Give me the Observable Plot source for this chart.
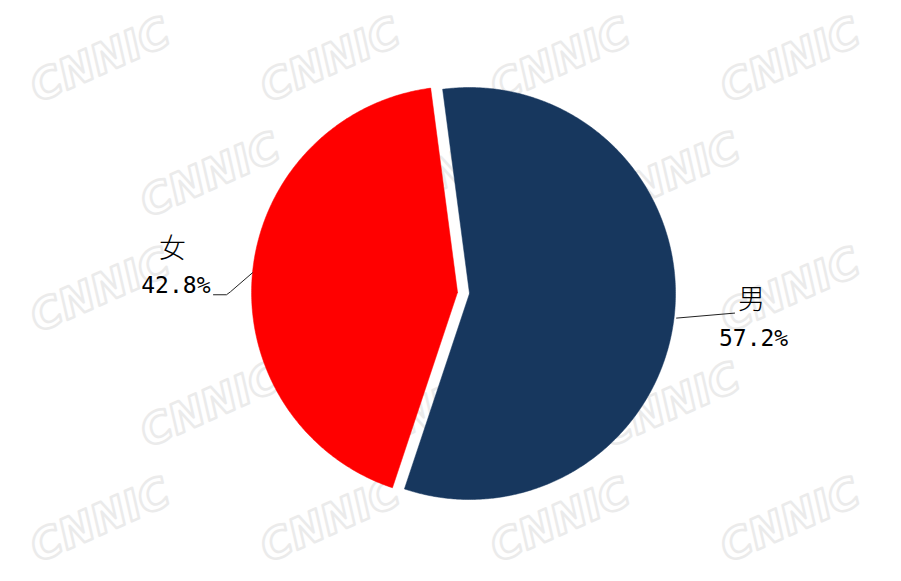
<!DOCTYPE html>
<html>
<head>
<meta charset="utf-8">
<script src="https://cdn.jsdelivr.net/npm/d3@7"></script>
<script src="https://cdn.jsdelivr.net/npm/@observablehq/plot@0.6"></script>
<style>
  html, body { margin: 0; padding: 0; background: #ffffff; }
  #chart { width: 901px; height: 581px; }
</style>
</head>
<body>
<div id="chart"></div>
<script>
// ---- data ----
const categories = ["男", "女"];
const shares = [57.2, 42.8];
const valueLabels = ["57.2%", "42.8%"];
const colors = ["#17375e", "#ff0000"];
const exploded = [false, true];

// ---- layout constants ----
const W = 901, H = 581;
const cx = 469, cy = 293, R = 206;
const startDeg = -7.5;      // clockwise from 12 o'clock
const explodeDist = 12;

const total = d3.sum(shares);
const toRad = d => d * Math.PI / 180;

// build slice polygons from the data
const slicePts = [];
const slices = [];
let acc = startDeg;
categories.forEach((cat, i) => {
  const a0 = acc, a1 = acc + shares[i] / total * 360;
  acc = a1;
  const mid = (a0 + a1) / 2;
  const off = exploded[i] ? explodeDist : 0;
  const ox = cx + off * Math.sin(toRad(mid));
  const oy = cy - off * Math.cos(toRad(mid));
  slicePts.push({cat, x: ox, y: oy});
  const n = Math.ceil(a1 - a0) * 2;
  for (let k = 0; k <= n; k++) {
    const a = toRad(a0 + (a1 - a0) * k / n);
    slicePts.push({cat, x: ox + R * Math.sin(a), y: oy - R * Math.cos(a)});
  }
  slicePts.push({cat, x: ox, y: oy});
  slices.push({cat, label: valueLabels[i], mid, ox, oy, side: Math.sin(toRad(mid)) >= 0 ? 1 : -1});
});

// leader lines and label anchor points
const leaders = [];
const catLabels = [];
const valLabelsRight = [];
const valLabelsLeft = [];
slices.forEach(s => {
  const a = toRad(s.mid);
  const ex = s.ox + R * Math.sin(a), ey = s.oy - R * Math.cos(a);
  if (s.side > 0) {
    leaders.push({cat: s.cat, x: ex + 2, y: ey + 5}, {cat: s.cat, x: ex + 60, y: ey});
    catLabels.push({text: s.cat, x: ex + 77, y: ey - 13});
    valLabelsRight.push({text: s.label, x: ex + 79, y: ey + 26});
  } else {
    leaders.push({cat: s.cat, x: ex, y: ey}, {cat: s.cat, x: ex - 22, y: ey + 19},
                 {cat: s.cat, x: ex - 26, y: ey + 22}, {cat: s.cat, x: ex - 39, y: ey + 22});
    catLabels.push({text: s.cat, x: ex - 80, y: ey - 23});
    valLabelsLeft.push({text: s.label, x: ex - 42, y: ey + 13});
  }
});

// faint background watermark
const wm = [];
for (let r = 0; r < 5; r++) {
  for (let c = 0; c < 4; c++) {
    const x = 100 + c * 230 + (r % 2) * 110;
    const y = 60 + r * 115;
    if (x <= 810) wm.push({x, y});
  }
}

const chart = Plot.plot({
  width: W,
  height: H,
  margin: 0,
  style: {background: "#ffffff"},
  x: {domain: [0, W], range: [0, W], axis: null},
  y: {domain: [0, H], range: [0, H], axis: null},
  color: {domain: categories, range: colors},
  marks: [
    Plot.text(wm, {x: "x", y: "y", text: () => "CNNIC", fontSize: 42, fontWeight: "bold", fontStyle: "italic",
      fontFamily: "DejaVu Sans", fill: "none", stroke: "#ebebeb", strokeWidth: 2.5, rotate: -24}),
    Plot.line(slicePts, {x: "x", y: "y", z: "cat", fill: "cat", stroke: "cat", strokeWidth: 0.5}),
    Plot.line(leaders, {x: "x", y: "y", z: "cat", stroke: "#222", strokeWidth: 1}),
    Plot.text(catLabels, {x: "x", y: "y", text: "text", textAnchor: "middle",
      fontFamily: "Noto Sans CJK SC", fontWeight: 300, fontSize: 27, fill: "#000"}),
    Plot.text(valLabelsRight, {x: "x", y: "y", text: "text", textAnchor: "middle",
      fontFamily: "DejaVu Sans Mono", fontSize: 23, fill: "#000"}),
    Plot.text(valLabelsLeft, {x: "x", y: "y", text: "text", textAnchor: "end",
      fontFamily: "DejaVu Sans Mono", fontSize: 23, fill: "#000"})
  ]
});

document.getElementById("chart").appendChild(chart);
</script>
</body>
</html>
